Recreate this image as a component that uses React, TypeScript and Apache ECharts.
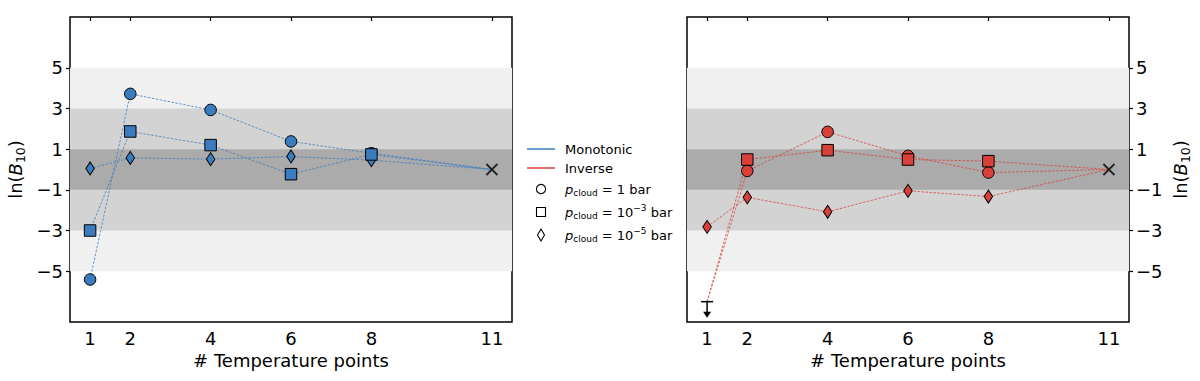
import React, { useEffect, useRef } from "react";
import * as echarts from "echarts";

const xTicks = [1, 2, 4, 6, 8, 11];
const yTicks = [-5, -3, -1, 1, 3, 5];
const nPoints = [1, 2, 4, 6, 8, 11];

const monoCircle = [-5.41, 3.72, 2.93, 1.38, 0.8, 0];
const monoSquare = [-3.0, 1.87, 1.2, -0.23, 0.74, 0];
const monoDiamond = [0.05, 0.57, 0.51, 0.64, 0.46, 0];

const invCircle = [-6.5, -0.07, 1.85, 0.67, -0.15, 0];
const invSquare = [-6.5, 0.49, 0.95, 0.49, 0.41, 0];
const invDiamond = [-2.82, -1.37, -2.08, -1.05, -1.33, 0];

const upperLimits = [[1, -6.5]];
const reference = [[11, 0]];

const bands = [
  { from: -5, to: 5, color: "#f0f0f0" },
  { from: -3, to: 3, color: "#d3d3d3" },
  { from: -1, to: 1, color: "#ababab" },
];

const BLUE = "#3b7cbf";
const RED = "#d8403a";
const FONT = "'DejaVu Sans'";

const fmt = (v: number) => String(v).replace("-", "\u2212");

function pts(vals: number[], hideFirst: boolean) {
  return vals.map((v, i) => {
    const item: any = { value: [nPoints[i], v] };
    if (i === vals.length - 1 || (hideFirst && i === 0)) item.symbol = "none";
    return item;
  });
}

function lineSeries(name: string, vals: number[], color: string, symbol: string, size: any, grid: number, hideFirst: boolean, withBands: boolean) {
  const s: any = {
    name,
    type: "line",
    xAxisIndex: grid === 0 ? 0 : 2,
    yAxisIndex: grid,
    data: pts(vals, hideFirst),
    symbol,
    symbolSize: size,
    showSymbol: true,
    showAllSymbol: true,
    lineStyle: { color, width: 0.9, type: [2.5, 1.5], opacity: 0.85 },
    itemStyle: { color, borderColor: "#000", borderWidth: 1 },
    z: 3,
  };
  if (withBands) {
    s.markArea = {
      silent: true,
      z: 1,
      data: bands.map((b) => [
        { yAxis: b.from, itemStyle: { color: b.color } },
        { yAxis: b.to },
      ]),
    };
  }
  return s;
}

const nameRich = {
  n: { fontSize: 18, fontFamily: FONT, color: "#000" },
  i: { fontSize: 18, fontFamily: FONT, fontStyle: "italic", color: "#000" },
  s: { fontSize: 12.5, fontFamily: FONT, color: "#000", padding: [10, 0, 0, 0] },
};

export default function App() {
  const ref = useRef<HTMLDivElement>(null);
  useEffect(() => {
    document.body.style.margin = "0";
    const chart = echarts.init(ref.current!, null, { renderer: "svg" });

    const xAxisBase = (grid: number, pos: string) => ({
      type: "value",
      gridIndex: grid,
      position: pos,
      min: 0.5,
      max: 11.5,
      splitLine: { show: false },
      axisLine: { show: false },
      axisTick:
        pos === "bottom"
          ? { show: true, inside: false, length: 4, lineStyle: { color: "#000", width: 1.2 }, customValues: xTicks }
          : { show: true, inside: true, length: 4, lineStyle: { color: "#000", width: 1.2 }, customValues: xTicks },
      axisLabel:
        pos === "bottom"
          ? { show: true, customValues: xTicks, fontSize: 18, fontFamily: FONT, color: "#000", margin: 7 }
          : { show: false },
      name: pos === "bottom" ? "# Temperature points" : "",
      nameLocation: "middle",
      nameGap: 27,
      nameTextStyle: { fontSize: 18, fontFamily: FONT, color: "#000" },
    });

    const yAxisBase = (grid: number, pos: string) => ({
      type: "value",
      gridIndex: grid,
      position: pos,
      min: -7.5,
      max: 7.5,
      splitLine: { show: false },
      axisLine: { show: false },
      axisTick: { show: true, inside: false, length: 4, lineStyle: { color: "#000", width: 1.2 }, customValues: yTicks },
      axisLabel: { show: true, customValues: yTicks, formatter: (v: number) => fmt(v), fontSize: 18, fontFamily: FONT, color: "#000", margin: 7 },
      name: "{n|ln(}{i|B}{s|10}{n|)}",
      nameLocation: "middle",
      nameRotate: 90,
      nameGap: grid === 0 ? 43 : 40,
      nameTextStyle: { rich: nameRich },
    });

    const legendY = { mono: 149, inv: 168, c: 189, s: 212, d: 235 };
    const legRich = {
      n: { fontSize: 13, fontFamily: FONT, color: "#000" },
      i: { fontSize: 13, fontFamily: FONT, fontStyle: "italic", color: "#000" },
      s: { fontSize: 9, fontFamily: FONT, color: "#000", padding: [7, 0, 0, 0] },
      u: { fontSize: 9, fontFamily: FONT, color: "#000", padding: [0, 0, 8, 0] },
    };
    const legText = (y: number, text: string) => ({
      type: "text",
      x: 565,
      y,
      style: { text, rich: legRich, font: `13px ${FONT}`, fill: "#000", verticalAlign: "middle", align: "left" },
    });

    const option: any = {
      animation: false,
      backgroundColor: "#fff",
      grid: [
        { left: 70, top: 17, width: 442, height: 305, show: true, borderColor: "#000", borderWidth: 1.5, backgroundColor: "transparent" },
        { left: 687, top: 17, width: 442, height: 305, show: true, borderColor: "#000", borderWidth: 1.5, backgroundColor: "transparent" },
      ],
      xAxis: [xAxisBase(0, "bottom"), xAxisBase(0, "top"), xAxisBase(1, "bottom"), xAxisBase(1, "top")],
      yAxis: [yAxisBase(0, "left"), yAxisBase(1, "right")],
      series: [
        lineSeries("mono circle", monoCircle, BLUE, "circle", 11.5, 0, false, true),
        lineSeries("mono diamond", monoDiamond, BLUE, "diamond", [8.5, 13], 0, false, false),
        lineSeries("mono square", monoSquare, BLUE, "rect", 11.5, 0, false, false),
        lineSeries("inv circle", invCircle, RED, "circle", 11.5, 1, true, true),
        lineSeries("inv diamond", invDiamond, RED, "diamond", [8.5, 13], 1, false, false),
        lineSeries("inv square", invSquare, RED, "rect", 11.5, 1, true, false),
        {
          type: "scatter",
          xAxisIndex: 0,
          yAxisIndex: 0,
          data: reference,
          symbol: "path://M0,0L10,10M10,0L0,10",
          symbolSize: 11,
          itemStyle: { color: "none", borderColor: "#000", borderWidth: 1.8 },
          z: 5,
        },
        {
          type: "scatter",
          xAxisIndex: 2,
          yAxisIndex: 1,
          data: reference,
          symbol: "path://M0,0L10,10M10,0L0,10",
          symbolSize: 11,
          itemStyle: { color: "none", borderColor: "#000", borderWidth: 1.8 },
          z: 5,
        },
        {
          type: "custom",
          xAxisIndex: 2,
          yAxisIndex: 1,
          data: upperLimits,
          z: 6,
          clip: false,
          renderItem: (params: any, api: any) => {
            const p = api.coord([api.value(0), api.value(1)]);
            return {
              type: "group",
              children: [
                { type: "line", shape: { x1: p[0] - 6, y1: p[1], x2: p[0] + 6, y2: p[1] }, style: { stroke: "#000", lineWidth: 1.5 } },
                { type: "line", shape: { x1: p[0], y1: p[1], x2: p[0], y2: p[1] + 11 }, style: { stroke: "#000", lineWidth: 1.5 } },
                { type: "polygon", shape: { points: [[p[0] - 4, p[1] + 10], [p[0] + 4, p[1] + 10], [p[0], p[1] + 16]] }, style: { fill: "#000" } },
              ],
            };
          },
        },
      ],
      graphic: [
        { type: "line", shape: { x1: 527, y1: legendY.mono, x2: 555, y2: legendY.mono }, style: { stroke: BLUE, lineWidth: 1.5 } },
        legText(legendY.mono, "{n|Monotonic}"),
        { type: "line", shape: { x1: 527, y1: legendY.inv, x2: 555, y2: legendY.inv }, style: { stroke: RED, lineWidth: 1.5 } },
        legText(legendY.inv, "{n|Inverse}"),
        { type: "circle", shape: { cx: 541, cy: legendY.c, r: 4.6 }, style: { fill: "none", stroke: "#000", lineWidth: 1.1 } },
        legText(legendY.c, "{i|p}{s|cloud}{n| = 1 bar}"),
        { type: "rect", shape: { x: 536.5, y: legendY.s - 4.5, width: 9, height: 9 }, style: { fill: "none", stroke: "#000", lineWidth: 1.1 } },
        legText(legendY.s, "{i|p}{s|cloud}{n| = 10}{u|\u22123}{n| bar}"),
        { type: "polygon", shape: { points: [[541, legendY.d - 6], [544.5, legendY.d], [541, legendY.d + 6], [537.5, legendY.d]] }, style: { fill: "none", stroke: "#000", lineWidth: 1.1 } },
        legText(legendY.d, "{i|p}{s|cloud}{n| = 10}{u|\u22125}{n| bar}"),
      ],
    };
    chart.setOption(option);
    return () => chart.dispose();
  }, []);
  return <div ref={ref} style={{ width: 1200, height: 381, position: "absolute", left: 0, top: 0 }} />;
}
